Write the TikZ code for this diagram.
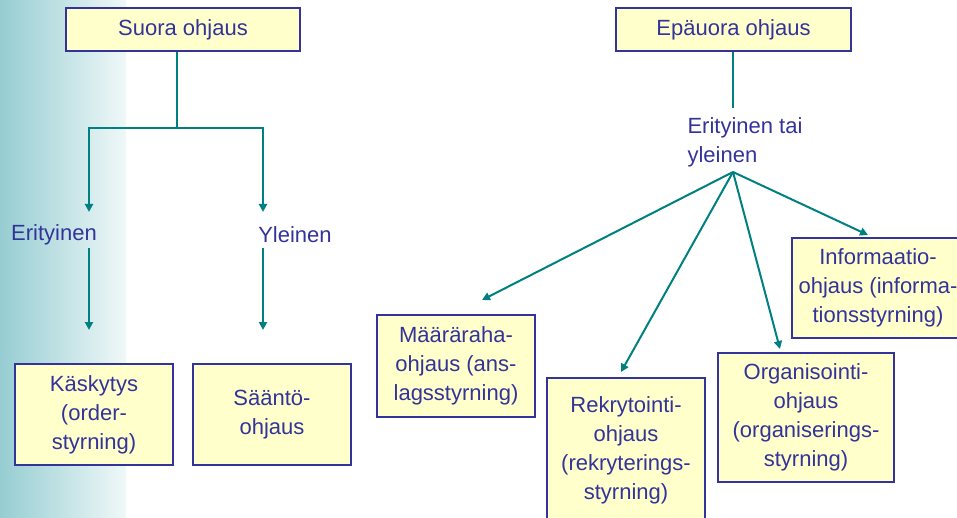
\documentclass[tikz,border=0pt]{standalone}
\usepackage{fontspec}
\setmainfont{Liberation Sans}
\usetikzlibrary{arrows.meta}
\definecolor{boxfill}{RGB}{255,255,204}
\definecolor{boxline}{RGB}{51,51,153}
\definecolor{txtblue}{RGB}{51,51,153}
\definecolor{linkteal}{RGB}{0,128,128}
\definecolor{shadeleft}{RGB}{150,205,210}
\definecolor{shaderight}{RGB}{240,248,248}
\tikzset{
  ohjbox/.style={draw=boxline, fill=boxfill, line width=1pt, text=txtblue, align=center, inner sep=0pt, font=\fontsize{11}{14.5}\selectfont},
  ohjlabel/.style={text=txtblue, inner sep=0pt, font=\fontsize{11}{14.5}\selectfont},
  link/.style={draw=linkteal, line width=1pt},
  linkarr/.style={link, -{Triangle[length=4pt,width=4pt]}}
}
\begin{document}
\begin{tikzpicture}[x=0.5pt,y=-0.5pt]
    \useasboundingbox (0,0) rectangle (957,518);
    \clip (0,0) rectangle (957,518);
    \shade[left color=shadeleft, right color=shaderight] (0,0) rectangle (126,518);
    % suora ohjaus
    \node[ohjbox, minimum width=117pt, minimum height=21.5pt] (suora) at (183,29.5) {Suora ohjaus};
    \node[ohjlabel] (erit) at (54,235) {Erityinen};
    \node[ohjlabel] (yleinen) at (295,235) {Yleinen};
    \node[ohjbox, minimum width=79pt, minimum height=50.5pt] (kasky) at (94,414.5) {Käskytys\\(order-\\styrning)};
    \node[ohjbox, minimum width=79pt, minimum height=50.5pt] (saanto) at (272,414.5) {Sääntö-\\ohjaus};
    \coordinate (split) at (177,128);
    \coordinate (eritA) at (89,212);
    \coordinate (eritB) at (89,248);
    \coordinate (eritC) at (89,330);
    \coordinate (yleA) at (263,212);
    \coordinate (yleB) at (263,248);
    \coordinate (yleC) at (263,330);
    \draw[link] (suora.south -| split) -- (split);
    \draw[linkarr] (split) -| (eritA);
    \draw[linkarr] (split) -| (yleA);
    \draw[linkarr] (eritB) -- (eritC);
    \draw[linkarr] (yleB) -- (yleC);
    % epäsuora ohjaus
    \node[ohjbox, minimum width=117.5pt, minimum height=21.5pt] (epa) at (733.5,29.5) {Epäuora ohjaus};
    \node[ohjlabel, align=left] (eriyle) at (745,142) {Erityinen tai\\yleinen};
    \node[ohjbox, minimum width=79pt, minimum height=51pt] (maara) at (456,366) {Määräraha-\\ohjaus (ans-\\lagsstyrning)};
    \node[ohjbox, minimum width=79pt, minimum height=72pt] (rekry) at (626,450) {Rekrytointi-\\ohjaus\\(rekryterings-\\styrning)};
    \node[ohjbox, minimum width=88pt, minimum height=64.5pt] (organ) at (806,417.5) {Organisointi-\\ohjaus\\(organiserings-\\styrning)};
    \node[ohjbox, minimum width=86pt, minimum height=50pt] (info) at (878,288) {Informaatio-\\ohjaus (informa-\\tionsstyrning)};
    \coordinate (stem) at (733,108);
    \coordinate (fan) at (733,172);
    \coordinate (maaraT) at (482,300);
    \coordinate (rekryT) at (621,372);
    \coordinate (organT) at (780,349);
    \coordinate (infoT) at (868,235);
    \draw[link] (epa.south -| stem) -- (stem);
    \draw[linkarr] (fan) -- (maaraT);
    \draw[linkarr] (fan) -- (rekryT);
    \draw[linkarr] (fan) -- (organT);
    \draw[linkarr] (fan) -- (infoT);
\end{tikzpicture}
\end{document}
